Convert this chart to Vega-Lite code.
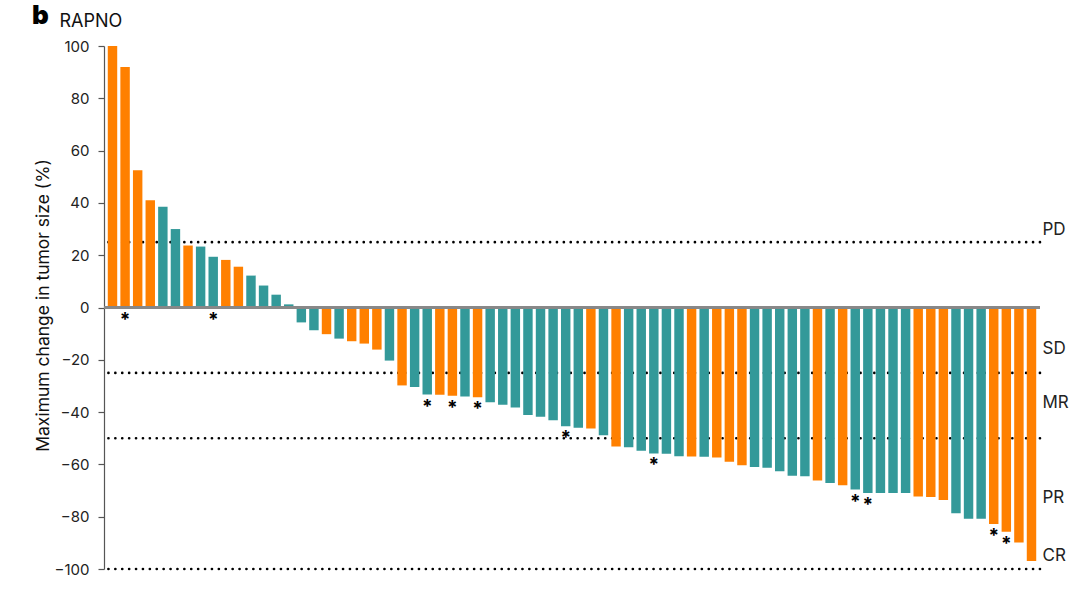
{
  "$schema": "https://vega.github.io/schema/vega-lite/v6.json",
  "width": 936,
  "height": 523,
  "autosize": {"type": "none"},
  "padding": {"left": 104, "top": 46, "right": 40, "bottom": 21},
  "background": "white",
  "config": {"view": {"stroke": null}, "font": "Inter"},
  "title": {"text": "b", "anchor": "start", "frame": "group", "dx": -72, "offset": -38, "baseline": "alphabetic", "fontSize": 26, "fontWeight": 900, "font": "Inter", "color": "#000"},
  "datasets": {
    "bars": [
      {"i": 1, "v": 100, "g": "O", "s": false},
      {"i": 2, "v": 92, "g": "O", "s": true},
      {"i": 3, "v": 52.5, "g": "O", "s": false},
      {"i": 4, "v": 41, "g": "O", "s": false},
      {"i": 5, "v": 38.5, "g": "T", "s": false},
      {"i": 6, "v": 30, "g": "T", "s": false},
      {"i": 7, "v": 23.7, "g": "O", "s": false},
      {"i": 8, "v": 23.3, "g": "T", "s": false},
      {"i": 9, "v": 19.4, "g": "T", "s": true},
      {"i": 10, "v": 18.2, "g": "O", "s": false},
      {"i": 11, "v": 15.6, "g": "O", "s": false},
      {"i": 12, "v": 12.2, "g": "T", "s": false},
      {"i": 13, "v": 8.4, "g": "T", "s": false},
      {"i": 14, "v": 4.9, "g": "T", "s": false},
      {"i": 15, "v": 1.2, "g": "T", "s": false},
      {"i": 16, "v": -5.7, "g": "T", "s": false},
      {"i": 17, "v": -8.7, "g": "T", "s": false},
      {"i": 18, "v": -10.2, "g": "O", "s": false},
      {"i": 19, "v": -11.9, "g": "T", "s": false},
      {"i": 20, "v": -12.9, "g": "O", "s": false},
      {"i": 21, "v": -13.8, "g": "O", "s": false},
      {"i": 22, "v": -16.1, "g": "O", "s": false},
      {"i": 23, "v": -20.3, "g": "T", "s": false},
      {"i": 24, "v": -29.8, "g": "O", "s": false},
      {"i": 25, "v": -30.4, "g": "T", "s": false},
      {"i": 26, "v": -33.3, "g": "T", "s": true},
      {"i": 27, "v": -33.4, "g": "O", "s": false},
      {"i": 28, "v": -33.7, "g": "O", "s": true},
      {"i": 29, "v": -34.0, "g": "T", "s": false},
      {"i": 30, "v": -34.3, "g": "O", "s": true},
      {"i": 31, "v": -36.2, "g": "T", "s": false},
      {"i": 32, "v": -37.2, "g": "T", "s": false},
      {"i": 33, "v": -38.2, "g": "T", "s": false},
      {"i": 34, "v": -41.1, "g": "T", "s": false},
      {"i": 35, "v": -41.8, "g": "T", "s": false},
      {"i": 36, "v": -43.1, "g": "T", "s": false},
      {"i": 37, "v": -45.4, "g": "T", "s": true},
      {"i": 38, "v": -46.0, "g": "T", "s": false},
      {"i": 39, "v": -46.3, "g": "O", "s": false},
      {"i": 40, "v": -48.9, "g": "T", "s": false},
      {"i": 41, "v": -53.2, "g": "O", "s": false},
      {"i": 42, "v": -53.4, "g": "T", "s": false},
      {"i": 43, "v": -54.8, "g": "T", "s": false},
      {"i": 44, "v": -55.8, "g": "T", "s": true},
      {"i": 45, "v": -55.9, "g": "T", "s": false},
      {"i": 46, "v": -56.9, "g": "T", "s": false},
      {"i": 47, "v": -57.0, "g": "O", "s": false},
      {"i": 48, "v": -57.1, "g": "T", "s": false},
      {"i": 49, "v": -57.4, "g": "O", "s": false},
      {"i": 50, "v": -59.0, "g": "O", "s": false},
      {"i": 51, "v": -60.3, "g": "O", "s": false},
      {"i": 52, "v": -61.0, "g": "T", "s": false},
      {"i": 53, "v": -61.3, "g": "T", "s": false},
      {"i": 54, "v": -62.6, "g": "T", "s": false},
      {"i": 55, "v": -64.3, "g": "T", "s": false},
      {"i": 56, "v": -64.5, "g": "T", "s": false},
      {"i": 57, "v": -66.2, "g": "O", "s": false},
      {"i": 58, "v": -67.1, "g": "T", "s": false},
      {"i": 59, "v": -68.0, "g": "O", "s": false},
      {"i": 60, "v": -69.6, "g": "T", "s": true},
      {"i": 61, "v": -70.9, "g": "T", "s": true},
      {"i": 62, "v": -70.9, "g": "T", "s": false},
      {"i": 63, "v": -70.9, "g": "T", "s": false},
      {"i": 64, "v": -70.9, "g": "T", "s": false},
      {"i": 65, "v": -72.3, "g": "O", "s": false},
      {"i": 66, "v": -72.5, "g": "O", "s": false},
      {"i": 67, "v": -73.6, "g": "O", "s": false},
      {"i": 68, "v": -78.7, "g": "T", "s": false},
      {"i": 69, "v": -80.8, "g": "T", "s": false},
      {"i": 70, "v": -80.8, "g": "T", "s": false},
      {"i": 71, "v": -82.8, "g": "O", "s": true},
      {"i": 72, "v": -85.8, "g": "O", "s": true},
      {"i": 73, "v": -89.9, "g": "O", "s": false},
      {"i": 74, "v": -96.9, "g": "O", "s": false}
    ],
    "thresholds": [
      {"t": 25},
      {"t": -25},
      {"t": -50},
      {"t": -100}
    ]
  },
  "layer": [
    {
      "data": {"name": "thresholds"},
      "mark": {"type": "rule", "color": "#000", "strokeWidth": 2.6, "strokeDash": [0.1, 6.8], "strokeCap": "round"},
      "encoding": {
        "y": {
          "field": "t", "type": "quantitative",
          "scale": {"domain": [-100, 100], "nice": false, "zero": false},
          "axis": {
            "orient": "right", "values": [30, -15.6, -36.3, -72.5, -94.7],
            "labelExpr": "datum.value > 0 ? 'PD' : datum.value > -25 ? 'SD' : datum.value > -50 ? 'MR' : datum.value > -85 ? 'PR' : 'CR'",
            "ticks": false, "domain": false, "grid": false, "title": null,
            "labelPadding": 2, "labelFontSize": 17, "labelColor": "#222", "labelFont": "Inter"
          }
        }
      }
    },
    {
      "data": {"name": "bars"},
      "mark": {"type": "bar"},
      "encoding": {
        "x": {
          "field": "i", "type": "ordinal",
          "scale": {"paddingInner": 0.25, "paddingOuter": 0.3},
          "axis": {"orient": "top", "labels": false, "ticks": false, "domain": false, "grid": false,
                   "title": "RAPNO", "titleAnchor": "start", "titleAlign": "left", "titleX": -45, "titleY": -20,
                   "titleBaseline": "alphabetic", "titleFontSize": 18, "titleFontWeight": "normal", "titleFont": "Inter", "titleColor": "#111"}
        },
        "y": {
          "field": "v", "type": "quantitative",
          "scale": {"domain": [-100, 100], "nice": false, "zero": false},
          "axis": {
            "orient": "left", "values": [-100, -80, -60, -40, -20, 0, 20, 40, 60, 80, 100],
            "grid": false, "tickSize": 6, "tickColor": "#555", "domainColor": "#555", "domainWidth": 1.2, "tickWidth": 1.2,
            "labelFontSize": 15, "labelColor": "#222", "labelPadding": 9, "labelFont": "Inter",
            "title": "Maximum change in tumor size (%)", "titleFontSize": 17.5, "titleFontWeight": "normal", "titleFont": "Inter",
            "titleColor": "#111", "titleX": -61, "titleY": 259, "titleAngle": -90, "titleBaseline": "middle", "titleAlign": "center"
          }
        },
        "y2": {"datum": 0},
        "color": {
          "field": "g", "type": "nominal",
          "scale": {"domain": ["O", "T"], "range": ["#FF8000", "#339999"]},
          "legend": null
        }
      }
    },
    {
      "data": {"name": "bars"},
      "mark": {"type": "rule", "color": "#888", "strokeWidth": 1.5},
      "encoding": {"y": {"datum": 0, "type": "quantitative", "axis": null}}
    },
    {
      "data": {"name": "bars"},
      "transform": [
        {"filter": "datum.s"},
        {"calculate": "min(datum.v, 0)", "as": "sy"}
      ],
      "mark": {"type": "text", "text": "*", "fontSize": 19, "baseline": "top", "dy": 3, "color": "#000", "font": "Inter", "fontWeight": "bold"},
      "encoding": {
        "x": {"field": "i", "type": "ordinal"},
        "y": {"field": "sy", "type": "quantitative", "axis": null}
      }
    }
  ],
  "resolve": {"axis": {"y": "independent"}}
}
